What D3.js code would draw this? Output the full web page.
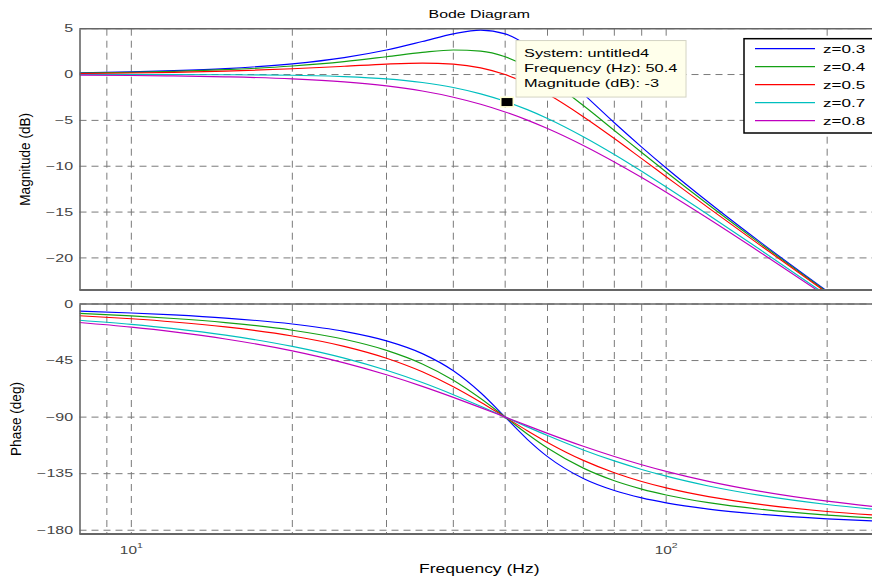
<!DOCTYPE html>
<html>
<head>
<meta charset="utf-8">
<script src="https://cdn.jsdelivr.net/npm/d3@7"></script>
<style>
  html, body { margin: 0; padding: 0; background: #fff; }
  svg { display: block; font-family: "Liberation Sans", Arial, Helvetica, sans-serif; }
</style>
</head>
<body>
<svg id="chart" width="872" height="581"></svg>
<script>
// ---- data ---------------------------------------------------------------
const freqHz = [8, 10, 12, 15, 20, 25, 30, 35, 40, 45, 50, 55, 60, 70, 80, 90, 100, 120, 150, 200, 250];

const seriesLabels = ["z=0.3", "z=0.4", "z=0.5", "z=0.7", "z=0.8"];
const seriesColors = ["#0000ff", "#14a014", "#ff0000", "#00bfbf", "#bf00bf"];

// magnitude (dB)
const magZ03 = [0.18, 0.29, 0.42, 0.65, 1.17, 1.85, 2.68, 3.60, 4.44, 4.85, 4.44, 3.19, 1.48, -2.11, -5.26, -7.91, -10.19, -13.93, -18.28, -23.63, -27.67];
const magZ04 = [0.15, 0.24, 0.34, 0.53, 0.93, 1.41, 1.94, 2.41, 2.68, 2.56, 1.94, 0.87, -0.47, -3.38, -6.10, -8.51, -10.63, -14.21, -18.44, -23.72, -27.72];
const magZ05 = [0.11, 0.17, 0.24, 0.37, 0.63, 0.90, 1.14, 1.25, 1.14, 0.73, 0.00, -0.98, -2.13, -4.60, -6.98, -9.17, -11.14, -14.54, -18.63, -23.82, -27.79];
const magZ07 = [0.00, 0.00, 0.00, -0.02, -0.08, -0.22, -0.47, -0.87, -1.41, -2.11, -2.92, -3.83, -4.79, -6.78, -8.72, -10.56, -12.26, -15.31, -19.12, -24.09, -27.96];
const magZ08 = [-0.06, -0.10, -0.15, -0.25, -0.47, -0.80, -1.24, -1.80, -2.47, -3.24, -4.08, -4.97, -5.89, -7.74, -9.54, -11.24, -12.84, -15.73, -19.40, -24.25, -28.06];

// phase (deg)
const phZ03 = [-5.63, -7.13, -8.69, -11.19, -15.95, -21.80, -29.36, -39.47, -53.13, -70.62, -90, -107.65, -121.43, -138.81, -148.39, -154.26, -158.20, -163.17, -167.32, -170.91, -172.87];
const phZ04 = [-7.48, -9.46, -11.52, -14.78, -20.85, -28.07, -36.87, -47.67, -60.64, -75.22, -90, -103.42, -114.62, -130.60, -140.63, -147.26, -151.93, -158.03, -163.30, -167.96, -170.54];
const phZ05 = [-9.32, -11.77, -14.29, -18.25, -25.46, -33.69, -43.15, -53.92, -65.77, -78.08, -90, -100.81, -110.14, -124.44, -134.27, -141.21, -146.31, -153.24, -159.44, -165.07, -168.23];
const phZ07 = [-12.95, -16.26, -19.63, -24.78, -33.69, -43.03, -52.70, -62.51, -72.18, -81.42, -90, -97.77, -104.68, -116.10, -124.85, -131.63, -136.97, -144.78, -152.30, -159.53, -163.74];
const phZ08 = [-14.72, -18.43, -22.17, -27.81, -37.30, -46.85, -56.31, -65.52, -74.29, -82.48, -90, -96.80, -102.91, -113.20, -121.35, -127.87, -133.15, -141.11, -149.04, -156.89, -161.57];

const magSeries = [magZ03, magZ04, magZ05, magZ07, magZ08];
const phaseSeries = [phZ03, phZ04, phZ05, phZ07, phZ08];

const magTicks = [5, 0, -5, -10, -15, -20];
const phaseTicks = [0, -45, -90, -135, -180];
const freqGrid = [9, 10, 20, 30, 40, 50, 60, 70, 80, 90, 100, 200];
const freqTicks = [10, 100];
const freqTickExps = ["1", "2"];

// data cursor on the z=0.7 magnitude curve
const tipSystem = "untitled4";
const tipFreq = 50.4;
const tipMag = -3;

// ---- layout -------------------------------------------------------------
const svg = d3.select("#chart");
const axisColor = "#666666";
const gridColor = "#7a7a7a";
const tickColor = "#444444";

const x = d3.scaleLog().domain([8, 250]).range([79.5, 879]);
const yMag = d3.scaleLinear().domain([-23.5, 5]).range([290, 28.7]);
const yPh = d3.scaleLinear().domain([-183, 0]).range([534, 304]);

// horizontally stretched text, as in the original figure export
function sText(parent, px, py, str, size, sx, anchor, fill) {
  return parent.append("text")
    .attr("transform", `translate(${px},${py}) scale(${sx},1)`)
    .attr("font-size", size)
    .attr("text-anchor", anchor)
    .attr("fill", fill)
    .text(str);
}

const panels = [
  { id: "mag", y: yMag, ticks: magTicks, series: magSeries },
  { id: "ph", y: yPh, ticks: phaseTicks, series: phaseSeries }
];

panels.forEach(p => {
  const [x0, x1] = x.range();
  const [yb, yt] = p.y.range();
  const g = svg.append("g").attr("class", "panel-" + p.id);

  g.append("clipPath").attr("id", "clip-" + p.id)
    .append("rect").attr("x", x0).attr("y", yt).attr("width", x1 - x0).attr("height", yb - yt);

  // grid
  const grid = g.append("g")
    .attr("stroke", gridColor).attr("stroke-width", 1).attr("stroke-dasharray", "7,5");
  grid.selectAll("line.h").data(p.ticks).join("line").attr("class", "h")
    .attr("x1", x0).attr("x2", x1)
    .attr("y1", d => p.y(d)).attr("y2", d => p.y(d));
  grid.selectAll("line.v").data(freqGrid).join("line").attr("class", "v")
    .attr("x1", d => x(d)).attr("x2", d => x(d))
    .attr("y1", yt).attr("y2", yb);

  // curves
  const line = d3.line()
    .x((d, i) => x(freqHz[i]))
    .y(d => p.y(d))
    .curve(d3.curveMonotoneX);
  g.append("g").attr("clip-path", `url(#clip-${p.id})`)
    .selectAll("path").data(p.series).join("path")
    .attr("fill", "none")
    .attr("stroke", (d, i) => seriesColors[i])
    .attr("stroke-width", 1.15)
    .attr("d", line);

  // frame
  const frame = g.append("g").attr("stroke", axisColor).attr("stroke-width", 1.6);
  frame.append("line").attr("x1", x0).attr("x2", x1).attr("y1", yt).attr("y2", yt);
  frame.append("line").attr("x1", x0).attr("x2", x1).attr("y1", yb).attr("y2", yb).attr("stroke-width", 2);

  // y axis with stretched tick labels
  const ax = g.append("g").attr("transform", `translate(${x0},0)`)
    .call(d3.axisLeft(p.y).tickValues(p.ticks).tickSize(0).tickPadding(4).tickFormat(d3.format("d")));
  ax.select(".domain").attr("stroke", axisColor).attr("stroke-width", 1.6);
  ax.selectAll(".tick text")
    .attr("font-size", 10)
    .attr("font-family", "Liberation Sans, Arial, sans-serif")
    .attr("fill", tickColor)
    .attr("transform", "scale(1.6,1)");
});

// x tick labels (10^1, 10^2)
const xl = svg.append("g");
freqTicks.forEach((f, i) => {
  const t = xl.append("text")
    .attr("transform", `translate(${x(f)},554) scale(1.4,1)`)
    .attr("text-anchor", "middle")
    .attr("font-size", 11)
    .attr("fill", tickColor);
  t.append("tspan").text("10");
  t.append("tspan").attr("font-size", 7.5).attr("dy", -6).text(freqTickExps[i]);
});

// titles
const midX = (x.range()[0] + x.range()[1]) / 2;
sText(svg, midX, 18.3, "Bode Diagram", 11.5, 1.38, "middle", "#000");
sText(svg, midX, 573, "Frequency (Hz)", 12.5, 1.4, "middle", "#000");

function yLabel(cx, cy, str) {
  svg.append("text")
    .attr("transform", `translate(${cx},${cy}) rotate(-90) scale(1.18,1.3)`)
    .attr("text-anchor", "middle")
    .attr("dominant-baseline", "central")
    .attr("font-size", 11.5)
    .attr("fill", "#000")
    .text(str);
}
yLabel(25, d3.mean(yMag.range()), "Magnitude (dB)");
yLabel(16, d3.mean(yPh.range()), "Phase (deg)");

// legend
const leg = svg.append("g");
leg.append("rect").attr("x", 744).attr("y", 38.7).attr("width", 140).attr("height", 94.3)
  .attr("fill", "#fff").attr("stroke", "#000").attr("stroke-width", 1.5);
seriesLabels.forEach((lab, i) => {
  const ly = 48.7 + i * 18;
  leg.append("line").attr("x1", 755).attr("x2", 815).attr("y1", ly).attr("y2", ly)
    .attr("stroke", seriesColors[i]).attr("stroke-width", 1.3);
  sText(leg, 823, ly + 4.7, lab, 11, 1.55, "start", "#000");
});

// data cursor marker and tip box
const mx = x(tipFreq), my = yMag(tipMag);
const tip = svg.append("g");
tip.append("rect").attr("x", mx - 7).attr("y", my - 5.5).attr("width", 14).attr("height", 11)
  .attr("fill", "#ffffd0");
tip.append("rect").attr("x", mx - 5.5).attr("y", my - 4).attr("width", 11).attr("height", 8)
  .attr("fill", "#000");
const bx = mx + 9, by = my - 61.5;
tip.append("rect").attr("x", bx).attr("y", by).attr("width", 170).attr("height", 56.5)
  .attr("fill", "#ffffeb").attr("stroke", "#d4d4c4").attr("stroke-width", 1);
const tipLines = [
  "System: " + tipSystem,
  "Frequency (Hz): " + tipFreq,
  "Magnitude (dB): " + tipMag
];
tipLines.forEach((s, i) => {
  sText(tip, bx + 8, by + 16 + i * 15.3, s, 11.5, 1.42, "start", "#000");
});
</script>
</body>
</html>
